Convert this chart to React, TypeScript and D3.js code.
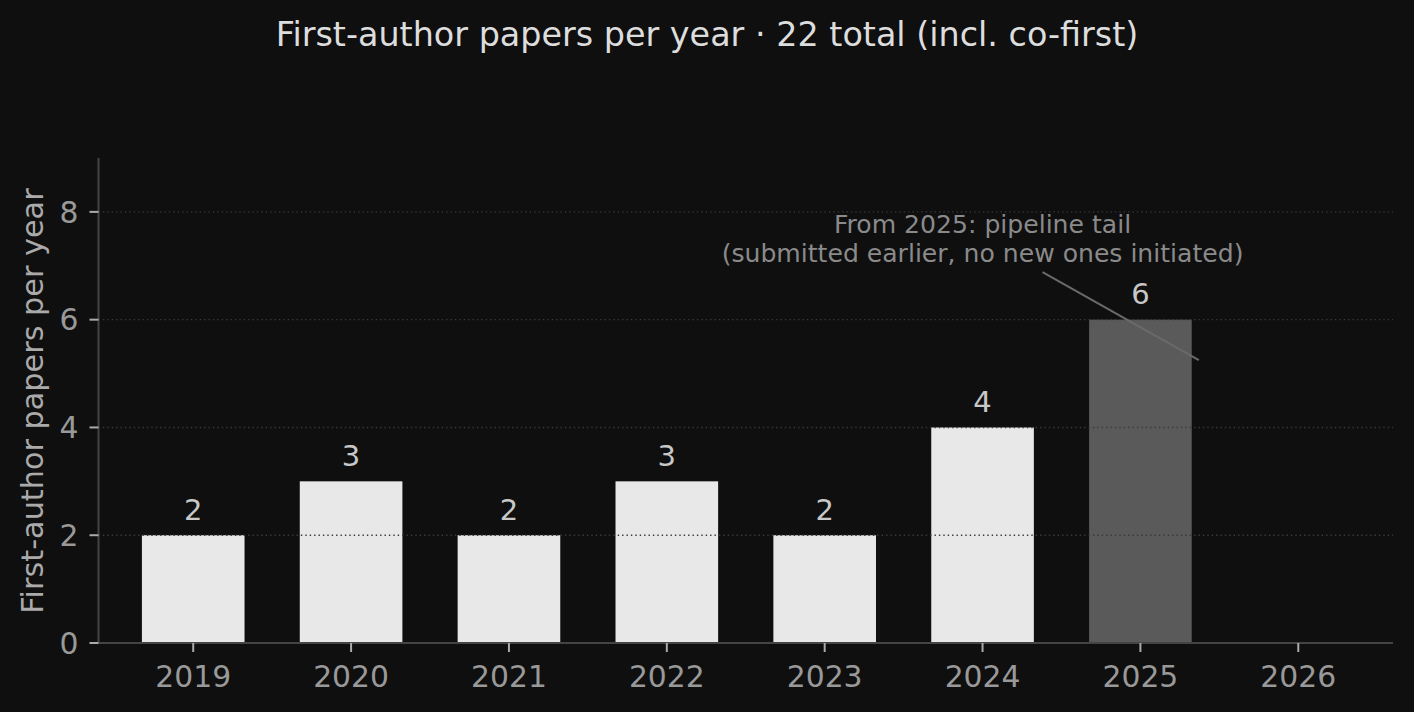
import React from "react";
import * as d3 from "d3";

const years = [2019, 2020, 2021, 2022, 2023, 2024, 2025, 2026];
const counts = [2, 3, 2, 3, 2, 4, 6, 0];
const pipelineYears = [2025];
const yTicks = [0, 2, 4, 6, 8];
const gridTicks = [2, 4, 6, 8];
const titleText = "First-author papers per year · 22 total (incl. co-first)";
const yLabelText = "First-author papers per year";
const noteLines = ["From 2025: pipeline tail", "(submitted earlier, no new ones initiated)"];
const noteTextPos = { x: 2024.0, y: 7.6 };
const noteLineStart = { x: 2024.38, y: 6.88 };
const noteLineEnd = { x: 2025.37, y: 5.25 };

const W = 1414;
const H = 712;
const M = { left: 98.5, right: 1393, top: 158, bottom: 643 };
const FONT = "DejaVu Sans, sans-serif";

export default function App() {
  const x = d3.scaleLinear().domain([2018.4, 2026.6]).range([M.left, M.right]);
  const y = d3.scaleLinear().domain([0, 9]).range([M.bottom, M.top]);
  const barW = x(2019.65) - x(2019);

  return (
    <svg
      width={W}
      height={H}
      style={{ position: "absolute", left: 0, top: 0, background: "#0f0f0f" }}
      fontFamily={FONT}
    >
      <rect x={0} y={0} width={W} height={H} fill="#0f0f0f" />
      <text x={W / 2} y={46} textAnchor="middle" fontSize={33.4} fill="#dddddd">
        {titleText}
      </text>

      {years.map((yr, i) =>
        counts[i] > 0 ? (
          <rect
            key={"b" + yr}
            x={x(yr) - barW / 2}
            y={y(counts[i])}
            width={barW}
            height={y(0) - y(counts[i])}
            fill={pipelineYears.includes(yr) ? "#5a5a5a" : "#e8e8e8"}
          />
        ) : null
      )}

      {gridTicks.map((t) => (
        <line
          key={"g" + t}
          x1={M.left}
          x2={M.right}
          y1={y(t)}
          y2={y(t)}
          stroke="#3a3a3a"
          strokeWidth={1.4}
          strokeDasharray="1.4,3"
        />
      ))}

      {years.map((yr, i) =>
        counts[i] > 0 ? (
          <text
            key={"v" + yr}
            x={x(yr)}
            y={y(counts[i]) - 15.5}
            textAnchor="middle"
            fontSize={29}
            fill="#c8c8c8"
          >
            {counts[i]}
          </text>
        ) : null
      )}

      <line
        x1={x(noteLineStart.x)}
        y1={y(noteLineStart.y)}
        x2={x(noteLineEnd.x)}
        y2={y(noteLineEnd.y)}
        stroke="#6a6a6a"
        strokeWidth={2}
      />
      {noteLines.map((l, i) => (
        <text
          key={"n" + i}
          x={x(noteTextPos.x)}
          y={y(noteTextPos.y) + i * 28.4}
          textAnchor="middle"
          fontSize={25.1}
          fill="#8a8a8a"
        >
          {l}
        </text>
      ))}

      <line x1={M.left} x2={M.left} y1={M.top} y2={M.bottom} stroke="#444" strokeWidth={2} />
      <line x1={M.left} x2={M.right} y1={M.bottom} y2={M.bottom} stroke="#444" strokeWidth={2} />

      {yTicks.map((t) => (
        <g key={"yt" + t}>
          <line x1={M.left - 9} x2={M.left} y1={y(t)} y2={y(t)} stroke="#aaaaaa" strokeWidth={2} />
          <text x={M.left - 20} y={y(t)} dy="0.36em" textAnchor="end" fontSize={29.8} fill="#999999">
            {t}
          </text>
        </g>
      ))}
      {years.map((yr) => (
        <g key={"xt" + yr}>
          <line x1={x(yr)} x2={x(yr)} y1={M.bottom} y2={M.bottom + 9} stroke="#aaaaaa" strokeWidth={2} />
          <text x={x(yr)} y={M.bottom + 44} textAnchor="middle" fontSize={29.8} fill="#999999">
            {yr}
          </text>
        </g>
      ))}

      <text
        transform={`translate(43, ${(187 + 615) / 2}) rotate(-90)`}
        textAnchor="middle"
        fontSize={30.3}
        fill="#aaaaaa"
      >
        {yLabelText}
      </text>
    </svg>
  );
}
